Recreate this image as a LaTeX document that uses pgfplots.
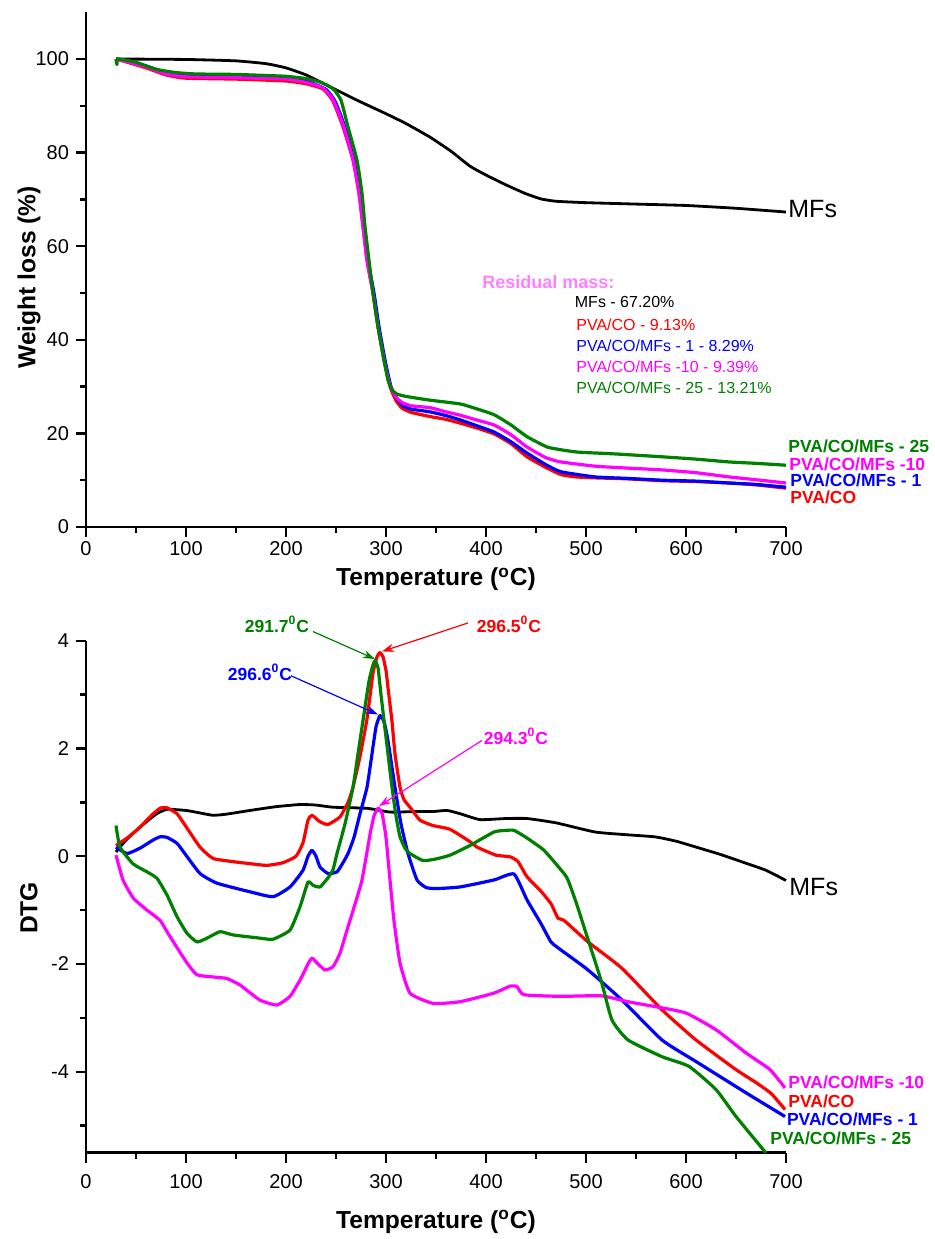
\documentclass[border=0pt]{standalone}
\usepackage{fontspec}
\setmainfont{Liberation Sans}
\usepackage{pgfplots}
\pgfplotsset{compat=1.18}
\usetikzlibrary{arrows.meta}
\definecolor{cgreen}{RGB}{0,128,0}
\definecolor{cpink}{RGB}{255,128,255}
\definecolor{cmag}{RGB}{255,0,255}

\pgfplotsset{
  myaxis/.style={
    scale only axis, width=350pt, xmin=0, xmax=700,
    axis x line*=bottom, axis y line*=left,
    axis line style={line width=1.2pt, -},
    tick align=outside, major tick length=5pt, minor tick length=3pt,
    tick style={black, line width=1.2pt},
    xtick={0,100,...,700}, minor xtick={50,150,...,650},
    tick label style={font=\fontsize{10}{12}\selectfont},
    /pgf/number format/assume math mode=true,
    xlabel={Temperature (\textsuperscript{o}C)},
    label style={font=\fontsize{12.3}{14}\selectfont\bfseries, inner sep=0pt},
    clip=false,
    every axis plot/.append style={line width=1.6pt, line join=round, mark=none, smooth, tension=0.3},
  },
}
\tikzset{
  lab/.style={anchor=west, inner sep=0pt, font=\fontsize{8.75}{10}\selectfont\bfseries},
  res/.style={anchor=west, inner sep=0pt, font=\fontsize{8}{10}\selectfont},
  ann/.style={font=\fontsize{8.75}{10}\selectfont\bfseries},
  arr/.style={line width=0.6pt, -{Stealth[length=6pt,width=4pt]}},
}

\begin{document}
\begin{tikzpicture}
\useasboundingbox (0,0) rectangle (467.5pt,619.5pt);

% ---------------- TGA ----------------
\begin{axis}[myaxis,
  at={(43pt,356pt)}, anchor=south west,
  height=257.4pt, ymin=0, ymax=110,
  ytick={0,20,...,100}, minor ytick={10,30,50,70,90},
  xticklabel style={yshift=-1pt, inner sep=1pt},
  ylabel={Weight loss (\%)},
  ylabel style={at={(axis description cs:-0.0814,0.485)}, anchor=center},
  xlabel style={at={(axis description cs:0.5,-0.102)}, anchor=center},
]
\addplot[black, line width=1.4pt] coordinates {
(30,100) (100,99.9) (150,99.6) (180,99.0) (200,98.1) (220,96.6) (240,94.5) (270,91.3)
(300,88.3) (320,86.2) (344,83.3) (365,80.3) (384,77.1) (400,75.2) (420,73.1) (440,71.2)
(455,70.1) (470,69.6) (500,69.3) (550,69.0) (600,68.7) (650,68.1) (700,67.3)};
\addplot[red] coordinates {
(30,100) (40,99.4) (60,98.1) (80,96.6) (100,95.9) (150,95.7) (200,95.3) (220,94.7)
(237,93.6) (247,91.0) (257,85.5) (267,78.4) (273,71.3) (277,64.2) (281,57) (287,50)
(292,42.8) (298,35.7) (304,30) (310,27.0) (316,25.4) (325,24.5) (344,23.6) (360,23.0)
(374,22.2) (390,21.2) (408,19.9) (425,17.8) (441,15.0) (460,12.7) (475,11.2) (490,10.7)
(509,10.5) (540,10.3) (576,9.9) (610,9.7) (643,9.4) (670,9.0) (700,8.3)};
\addplot[blue] coordinates {
(30,100) (40,99.6) (60,98.5) (80,97.1) (100,96.5) (150,96.3) (200,96.0) (220,95.3)
(240,93.5) (249,91.0) (258,86) (268,78.4) (274,71.3) (278,64.2) (282,57) (288,50)
(293,42.8) (299,35.7) (305,30) (311,27.4) (317,25.9) (325,25.2) (344,24.6) (360,23.8)
(374,22.9) (390,21.7) (408,20.3) (425,18.2) (441,15.8) (460,13.3) (475,11.8) (509,10.7)
(540,10.4) (576,10.0) (610,9.8) (643,9.4) (670,9.1) (700,8.5)};
\addplot[cmag] coordinates {
(30,100) (40,99.5) (60,98.3) (80,96.8) (100,96.2) (150,96.0) (200,95.7) (220,95.0)
(237,93.8) (247,91.3) (257,86) (267,78.6) (273,71.3) (277,64.2) (281,57) (287,50)
(292,42.8) (298,35.7) (304,30.3) (310,27.8) (316,26.6) (325,25.9) (344,25.5) (360,24.6)
(374,23.9) (390,22.9) (408,21.8) (425,19.7) (441,17.1) (460,14.8) (475,13.9) (509,13.0)
(540,12.6) (576,12.2) (610,11.6) (643,10.7) (670,10.1) (700,9.4)};
\addplot[cgreen] coordinates {
(30,100) (31,98.8) (32,100) (50,99.3) (70,97.8) (90,97.1) (110,96.8) (150,96.7) (200,96.3)
(220,95.8) (232,95.2) (241,94.4) (248,93.4) (255,91.2) (262,85.5) (271,78.4) (276,71.3)
(279,64.2) (283,57) (287,50) (292,42.8) (298,35.7) (302,31.4) (306,29.3) (311,28.4)
(320,27.9) (344,27.1) (374,26.3) (390,25.3) (408,24.0) (425,21.8) (441,19.3) (461,17.1)
(475,16.5) (492,16.0) (530,15.6) (576,15.0) (610,14.5) (643,13.9) (670,13.6) (700,13.2)};

\node[anchor=west, inner sep=0pt, font=\fontsize{12.5}{14}\selectfont] at (axis cs:702,68.0) {MFs};
\node[lab, text=cgreen] at (axis cs:702,17.2) {PVA/CO/MFs - 25};
\node[lab, text=cmag] at (axis cs:703,13.4) {PVA/CO/MFs -10};
\node[lab, text=blue] at (axis cs:704,9.9) {PVA/CO/MFs - 1};
\node[lab, text=red] at (axis cs:704,6.3) {PVA/CO};

\node[anchor=west, inner sep=0pt, text=cpink, font=\fontsize{9}{10}\selectfont\bfseries] at (axis cs:396,52.4) {Residual mass:};
\node[res, text=black] at (axis cs:488.5,48.0) {MFs - 67.20\%};
\node[res, text=red] at (axis cs:490,43.2) {PVA/CO - 9.13\%};
\node[res, text=blue] at (axis cs:490,38.7) {PVA/CO/MFs - 1 - 8.29\%};
\node[res, text=cmag] at (axis cs:490,34.3) {PVA/CO/MFs -10 - 9.39\%};
\node[res, text=cgreen] at (axis cs:490,29.8) {PVA/CO/MFs - 25 - 13.21\%};
\end{axis}

% ---------------- DTG ----------------
\begin{axis}[myaxis,
  at={(43pt,43.2pt)}, anchor=south west,
  height=255.95pt, ymin=-5.5, ymax=4,
  ytick={-4,-2,0,2,4}, minor ytick={-5,-3,-1,1,3},
  xticklabel style={yshift=-2.5pt},
  ylabel={DTG},
  ylabel style={at={(axis description cs:-0.0814,0.478)}, anchor=center},
  xlabel style={at={(axis description cs:0.5,-0.135)}, anchor=center},
]
\addplot[black, line width=1.4pt] coordinates {
(30,0.08) (40,0.3) (54,0.54) (70,0.78) (81,0.87) (100,0.85) (115,0.8) (127,0.76) (140,0.78)
(164,0.85) (190,0.92) (214,0.96) (230,0.95) (247,0.91) (281,0.89) (304,0.82) (330,0.83) (347,0.83)
(361,0.85) (374,0.79) (394,0.68) (420,0.70) (441,0.70) (470,0.62) (509,0.45) (540,0.40)
(569,0.36) (590,0.28) (610,0.17) (635,0.03) (660,-0.13) (680,-0.26) (700,-0.45)};
\addplot[red] coordinates {
(30,0.2) (42,0.35) (54,0.54) (65,0.75) (74,0.89) (81,0.9) (91,0.79) (100,0.55) (114,0.17)
(127,-0.04) (147,-0.1) (165,-0.14) (181,-0.17) (197,-0.12) (210,0.0) (217,0.25) (222,0.67)
(226,0.76) (234,0.64) (242,0.59) (254,0.73) (262,1.0) (267,1.28) (274,1.85) (281,2.55)
(287,3.4) (291,3.7) (294,3.78) (297,3.7) (300,3.45) (302,3.13) (306,2.5) (309,1.9)
(314,1.28) (318,1.05) (324,0.91) (334,0.67) (347,0.57) (364,0.5) (384,0.27) (391,0.17)
(410,0.02) (424,-0.01) (432,-0.1) (441,-0.38) (455,-0.65) (465,-0.88) (472,-1.15)
(478,-1.19) (502,-1.59) (536,-2.08) (576,-2.85) (610,-3.41) (650,-3.96) (670,-4.2)
(685,-4.4) (699,-4.70)};
\addplot[blue] coordinates {
(30,0.17) (41,0.05) (54,0.15) (67,0.3) (74,0.36) (81,0.35) (91,0.24) (100,0.02) (114,-0.32)
(131,-0.5) (164,-0.66) (187,-0.75) (204,-0.57) (217,-0.26) (222,0.0) (226,0.11) (230,0.0)
(234,-0.2) (242,-0.32) (251,-0.29) (257,-0.12) (262,0.05) (268,0.35) (274,0.79) (281,1.28)
(286,1.9) (290,2.4) (294,2.61) (298,2.5) (301,2.25) (304,1.9) (309,1.28) (315,0.6)
(322,0.05) (331,-0.44) (340,-0.58) (350,-0.6) (374,-0.57) (408,-0.44) (428,-0.33)
(441,-0.81) (455,-1.25) (465,-1.59) (475,-1.74) (502,-2.11) (536,-2.67) (576,-3.41)
(610,-3.81) (660,-4.39) (699,-4.83)};
\addplot[cmag] coordinates {
(30,0.02) (37,-0.44) (47.5,-0.78) (61,-1.0) (74,-1.19) (84,-1.49) (101,-1.98) (111,-2.2)
(127,-2.24) (141,-2.27) (154,-2.39) (174,-2.67) (191,-2.76) (204,-2.6) (214,-2.30)
(222,-2.0) (226,-1.89) (231,-1.98) (239,-2.11) (247,-2.05) (254,-1.8) (261,-1.37)
(268,-0.95) (276,-0.44) (284,0.4) (288,0.75) (292,0.89) (296,0.8) (300,0.35) (304,-0.44)
(308,-1.2) (314,-1.98) (324,-2.54) (347,-2.73) (374,-2.70) (408,-2.54) (424,-2.41)
(431,-2.42) (438,-2.57) (475,-2.6) (515,-2.59) (542,-2.70) (569,-2.79) (600,-2.91)
(630,-3.22) (660,-3.65) (684,-3.96) (699,-4.30)};
\addplot[cgreen] coordinates {
(30,0.57) (34,0.17) (47,-0.14) (61,-0.29) (71,-0.41) (81,-0.72) (91,-1.12) (101,-1.43)
(111,-1.59) (121,-1.52) (134,-1.4) (147,-1.46) (174,-1.52) (187,-1.54) (204,-1.37)
(214,-0.94) (222,-0.48) (227,-0.54) (234,-0.57) (242,-0.4) (247,-0.25) (251,0.05)
(259,0.6) (267,1.28) (272,1.9) (277,2.52) (283,3.25) (287,3.55) (289,3.63) (292,3.5)
(295,3.0) (298,2.52) (302,1.9) (306,1.28) (310,0.75) (314,0.36) (319,0.15) (324,0.05)
(337,-0.08) (350,-0.05) (364,0.02) (384,0.2) (408,0.45) (420,0.48) (428,0.48) (440,0.35)
(458,0.11) (478,-0.32) (482,-0.44) (490,-0.85) (499,-1.37) (515,-2.3) (526,-3.04)
(542,-3.41) (576,-3.72) (603,-3.9) (630,-4.33) (650,-4.83) (677,-5.44) (680,-5.5)};

\node[anchor=west, inner sep=0pt, font=\fontsize{12.5}{14}\selectfont] at (axis cs:703,-0.57) {MFs};
\node[lab, text=cmag] at (axis cs:702,-4.2) {PVA/CO/MFs -10};
\node[lab, text=red] at (axis cs:702,-4.55) {PVA/CO};
\node[lab, text=blue] at (axis cs:700.6,-4.89) {PVA/CO/MFs - 1};
\node[lab, text=cgreen] at (axis cs:684,-5.24) {PVA/CO/MFs - 25};

\node[ann, text=cgreen] at (axis cs:191,4.31) {291.7\textsuperscript{0}C};
\draw[arr, cgreen] (axis cs:227,4.17) -- (axis cs:289,3.66);
\node[ann, text=blue] at (axis cs:174,3.41) {296.6\textsuperscript{0}C};
\draw[arr, blue] (axis cs:205,3.35) -- (axis cs:292,2.63);
\node[ann, text=red] at (axis cs:423,4.31) {296.5\textsuperscript{0}C};
\draw[arr, red] (axis cs:382,4.33) -- (axis cs:296,3.8);
\node[ann, text=cmag] at (axis cs:430,2.23) {294.3\textsuperscript{0}C};
\draw[arr, cmag] (axis cs:396,2.15) -- (axis cs:293,0.93);
\end{axis}
\end{tikzpicture}
\end{document}
